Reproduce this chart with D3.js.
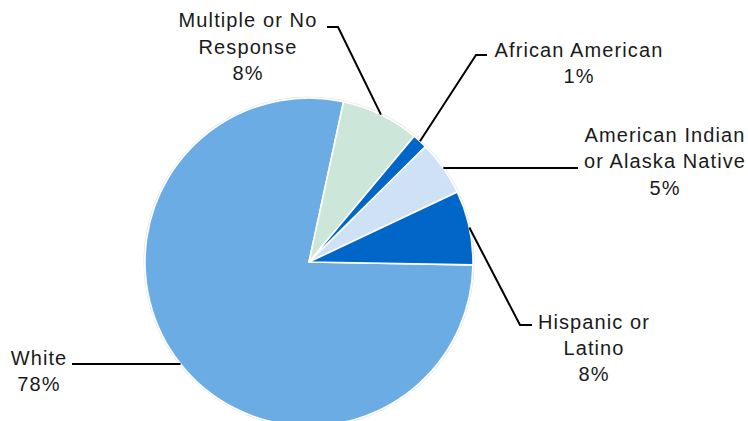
<!DOCTYPE html>
<html>
<head>
<meta charset="utf-8">
<script src="https://cdn.jsdelivr.net/npm/d3@7"></script>
<style>
  html, body { margin: 0; padding: 0; background: #fff; }
  svg { display: block; }
  text { font-family: "Liberation Sans", Arial, sans-serif; font-size: 20px; letter-spacing: 1.1px; fill: #1a1a1a; }
</style>
</head>
<body>
<svg id="chart" width="748" height="421"></svg>
<script>
// ---- data ----
const categories = ["White", "Multiple or No Response", "African American", "American Indian or Alaska Native", "Hispanic or Latino"];
const values = [78.1, 7.7, 1.5, 5.4, 7.3];
const percentLabels = ["78%", "8%", "1%", "5%", "8%"];
const labelLines = [
  ["White", "78%"],
  ["Multiple or No", "Response", "8%"],
  ["African  American", "1%"],
  ["American Indian", "or Alaska Native", "5%"],
  ["Hispanic or", "Latino", "8%"]
];
const colors = ["#6aace3", "#cde6da", "#0066c8", "#cfe2f5", "#0066c8"];

// ---- layout ----
const W = 748, H = 421;
const cx = 309, cy = 262, R = 164;
const startDeg = 91;
const lineH = 26.3;
// label placement: center x, first baseline y, leader polyline after the slice edge point
const labelLayout = [
  { x: 39,  y: 364.5, path: (p) => [p, [72, p[1]]] },
  { x: 248, y: 27.3,  path: (p) => [p, [338, 27], [327, 27]] },
  { x: 579, y: 56.7,  path: (p) => [p, [476, 55], [487, 55]] },
  { x: 665, y: 142,   path: (p) => [p, [578, p[1]]] },
  { x: 594, y: 328.5, path: (p) => [p, [520, 325], [532, 325]] }
];

const svg = d3.select("#chart");
const g = svg.append("g").attr("transform", `translate(${cx},${cy})`);

const pie = d3.pie().sort(null).value(d => d)
  .startAngle(startDeg * Math.PI / 180)
  .endAngle(startDeg * Math.PI / 180 + 2 * Math.PI);
const arcs = pie(values);
const arc = d3.arc().innerRadius(0).outerRadius(R);

// faint outer edge
g.append("circle").attr("r", R + 0.8).attr("fill", "none").attr("stroke", "#e4e8ec").attr("stroke-width", 1.6);

g.selectAll("path.slice").data(arcs).enter().append("path")
  .attr("class", "slice")
  .attr("d", arc)
  .attr("fill", (d, i) => colors[i])
  .attr("stroke", "#ffffff")
  .attr("stroke-width", 1.6)
  .attr("stroke-linejoin", "round");

// leaders
const line = d3.line();
arcs.forEach((a, i) => {
  const mid = (a.startAngle + a.endAngle) / 2;
  const edge = [cx + R * Math.sin(mid), cy - R * Math.cos(mid)];
  const pts = labelLayout[i].path(edge);
  svg.append("path")
    .attr("d", line(pts))
    .attr("fill", "none")
    .attr("stroke", "#000")
    .attr("stroke-width", 2);
});

// labels
labelLines.forEach((lines, i) => {
  const L = labelLayout[i];
  const t = svg.append("text").attr("text-anchor", "middle");
  lines.forEach((s, k) => {
    t.append("tspan").attr("x", L.x).attr("y", L.y + k * lineH).text(s);
  });
});
</script>
</body>
</html>
